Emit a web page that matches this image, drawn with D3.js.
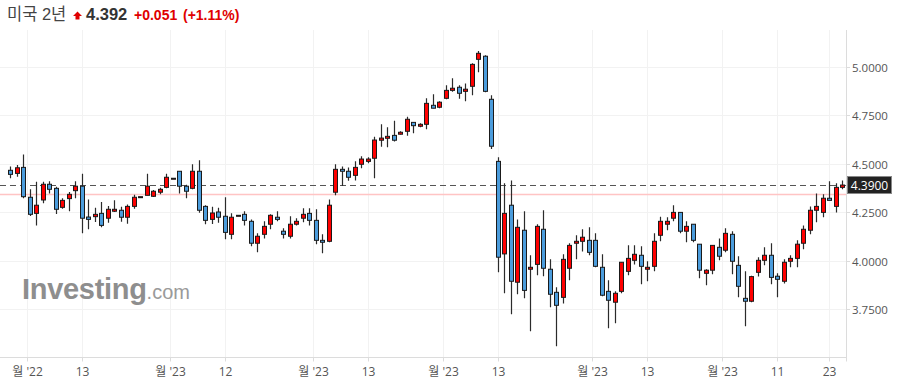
<!DOCTYPE html>
<html>
<head>
<meta charset="utf-8">
<script src="https://cdn.jsdelivr.net/npm/d3@7"></script>
<style>
  body { margin: 0; background: #fff; }
  svg { display: block; }
</style>
</head>
<body>
<svg id="chart" width="898" height="389"></svg>
<script>
const dates = [
  '2022-11-28', '2022-11-29', '2022-11-30', '2022-12-01', '2022-12-02', '2022-12-05', '2022-12-06', '2022-12-07', '2022-12-08', '2022-12-09',
  '2022-12-12', '2022-12-13', '2022-12-14', '2022-12-15', '2022-12-16', '2022-12-19', '2022-12-20', '2022-12-21', '2022-12-22', '2022-12-23',
  '2022-12-26', '2022-12-27', '2022-12-28', '2022-12-29', '2022-12-30', '2023-01-02', '2023-01-03', '2023-01-04', '2023-01-05', '2023-01-06',
  '2023-01-09', '2023-01-10', '2023-01-11', '2023-01-12', '2023-01-13', '2023-01-16', '2023-01-17', '2023-01-18', '2023-01-19', '2023-01-20',
  '2023-01-23', '2023-01-24', '2023-01-25', '2023-01-26', '2023-01-27', '2023-01-30', '2023-01-31', '2023-02-01', '2023-02-02', '2023-02-03',
  '2023-02-06', '2023-02-07', '2023-02-08', '2023-02-09', '2023-02-10', '2023-02-13', '2023-02-14', '2023-02-15', '2023-02-16', '2023-02-17',
  '2023-02-20', '2023-02-21', '2023-02-22', '2023-02-23', '2023-02-24', '2023-02-27', '2023-02-28', '2023-03-01', '2023-03-02', '2023-03-03',
  '2023-03-06', '2023-03-07', '2023-03-08', '2023-03-09', '2023-03-10', '2023-03-13', '2023-03-14', '2023-03-15', '2023-03-16', '2023-03-17',
  '2023-03-20', '2023-03-21', '2023-03-22', '2023-03-23', '2023-03-24', '2023-03-27', '2023-03-28', '2023-03-29', '2023-03-30', '2023-03-31',
  '2023-04-03', '2023-04-04', '2023-04-05', '2023-04-06', '2023-04-07', '2023-04-10', '2023-04-11', '2023-04-12', '2023-04-13', '2023-04-14',
  '2023-04-17', '2023-04-18', '2023-04-19', '2023-04-20', '2023-04-21', '2023-04-24', '2023-04-25', '2023-04-26', '2023-04-27', '2023-04-28',
  '2023-05-01', '2023-05-02', '2023-05-03', '2023-05-04', '2023-05-05', '2023-05-08', '2023-05-09', '2023-05-10', '2023-05-11', '2023-05-12',
  '2023-05-15', '2023-05-16', '2023-05-17', '2023-05-18', '2023-05-19', '2023-05-22', '2023-05-23', '2023-05-24', '2023-05-25'
]

const open = [
  4.466, 4.450, 4.481, 4.327, 4.244, 4.313, 4.394, 4.373, 4.275, 4.320,
  4.361, 4.384, 4.225, 4.227, 4.244, 4.219, 4.255, 4.260, 4.224, 4.280,
  4.330, 4.337, 4.332, 4.353, 4.378, 4.425, 4.461, 4.384, 4.373, 4.461,
  4.280, 4.213, 4.251, 4.229, 4.136, 4.234, 4.239, 4.203, 4.090, 4.136,
  4.188, 4.224, 4.152, 4.126, 4.188, 4.219, 4.244, 4.208, 4.105, 4.100,
  4.353, 4.471, 4.461, 4.440, 4.497, 4.512, 4.528, 4.621, 4.631, 4.646,
  4.652, 4.667, 4.713, 4.693, 4.703, 4.801, 4.791, 4.837, 4.878, 4.894,
  4.873, 4.899, 5.038, 5.054, 4.832, 4.512, 4.035, 4.286, 3.889, 4.157,
  3.956, 3.981, 4.162, 3.956, 3.837, 3.811, 3.961, 4.090, 4.100, 4.105,
  4.105, 3.966, 3.842, 3.786, 3.842, 3.945, 4.002, 4.028, 3.956, 3.971,
  4.131, 4.188, 4.219, 4.249, 4.152, 4.188, 4.085, 3.935, 3.951, 4.069,
  4.054, 4.136, 3.976, 3.806, 3.791, 3.940, 4.002, 4.028, 3.920, 3.894,
  3.997, 4.012, 4.090, 4.157, 4.260, 4.249, 4.322, 4.280, 4.378
]
const high = [
  4.485, 4.493, 4.548, 4.368, 4.407, 4.407, 4.409, 4.381, 4.322, 4.354,
  4.409, 4.448, 4.316, 4.273, 4.303, 4.282, 4.311, 4.278, 4.290, 4.340,
  4.330, 4.448, 4.364, 4.376, 4.448, 4.425, 4.461, 4.392, 4.497, 4.518,
  4.286, 4.278, 4.273, 4.327, 4.244, 4.234, 4.255, 4.213, 4.141, 4.203,
  4.239, 4.255, 4.167, 4.229, 4.219, 4.270, 4.270, 4.265, 4.136, 4.316,
  4.497, 4.485, 4.481, 4.512, 4.538, 4.533, 4.639, 4.703, 4.688, 4.722,
  4.667, 4.742, 4.713, 4.708, 4.837, 4.858, 4.822, 4.904, 4.940, 4.904,
  4.914, 5.018, 5.081, 5.059, 4.853, 4.533, 4.399, 4.414, 4.213, 4.255,
  4.028, 4.188, 4.260, 4.007, 3.863, 4.033, 4.090, 4.131, 4.162, 4.172,
  4.141, 4.033, 3.899, 3.842, 3.992, 4.079, 4.079, 4.074, 3.997, 4.141,
  4.227, 4.224, 4.286, 4.249, 4.203, 4.188, 4.085, 3.956, 4.079, 4.115,
  4.167, 4.152, 4.023, 3.945, 3.923, 4.018, 4.069, 4.090, 3.935, 4.007,
  4.028, 4.105, 4.182, 4.280, 4.347, 4.342, 4.409, 4.399, 4.414
]
const low = [
  4.425, 4.433, 4.322, 4.230, 4.182, 4.296, 4.347, 4.241, 4.268, 4.255,
  4.322, 4.141, 4.162, 4.199, 4.172, 4.196, 4.251, 4.201, 4.190, 4.268,
  4.330, 4.337, 4.328, 4.342, 4.373, 4.425, 4.347, 4.322, 4.368, 4.247,
  4.188, 4.189, 4.196, 4.110, 4.110, 4.234, 4.182, 4.074, 4.043, 4.115,
  4.162, 4.203, 4.115, 4.115, 4.182, 4.198, 4.182, 4.085, 4.038, 4.095,
  4.337, 4.385, 4.412, 4.414, 4.476, 4.502, 4.425, 4.588, 4.585, 4.615,
  4.651, 4.644, 4.657, 4.688, 4.677, 4.786, 4.786, 4.832, 4.871, 4.835,
  4.822, 4.853, 4.971, 4.868, 4.576, 3.940, 3.832, 3.724, 3.827, 3.806,
  3.636, 3.925, 3.920, 3.760, 3.559, 3.780, 3.899, 4.007, 4.048, 4.028,
  3.966, 3.817, 3.652, 3.677, 3.832, 3.925, 3.981, 3.878, 3.894, 3.945,
  4.100, 4.157, 4.203, 4.141, 4.095, 4.095, 3.909, 3.873, 3.930, 4.002,
  4.043, 3.930, 3.811, 3.662, 3.786, 3.918, 3.976, 3.878, 3.811, 3.883,
  3.966, 3.966, 4.059, 4.136, 4.198, 4.224, 4.311, 4.249, 4.368
]
const close = [
  4.445, 4.479, 4.330, 4.239, 4.286, 4.394, 4.368, 4.265, 4.311, 4.342,
  4.384, 4.219, 4.213, 4.239, 4.182, 4.265, 4.265, 4.224, 4.280, 4.327,
  4.330, 4.384, 4.358, 4.368, 4.430, 4.425, 4.384, 4.358, 4.461, 4.260,
  4.208, 4.246, 4.224, 4.146, 4.224, 4.234, 4.208, 4.090, 4.126, 4.177,
  4.234, 4.213, 4.136, 4.188, 4.203, 4.239, 4.208, 4.105, 4.095, 4.286,
  4.471, 4.461, 4.430, 4.481, 4.524, 4.524, 4.622, 4.632, 4.641, 4.621,
  4.662, 4.729, 4.696, 4.703, 4.811, 4.786, 4.817, 4.878, 4.889, 4.863,
  4.884, 5.012, 5.069, 4.873, 4.590, 4.018, 4.244, 3.894, 4.172, 3.847,
  3.966, 4.177, 3.961, 3.827, 3.770, 4.007, 4.079, 4.100, 4.121, 4.043,
  3.971, 3.822, 3.796, 3.832, 3.992, 4.012, 4.033, 3.971, 3.966, 4.100,
  4.203, 4.203, 4.249, 4.152, 4.177, 4.105, 3.951, 3.951, 4.079, 4.023,
  4.141, 3.997, 3.868, 3.791, 3.918, 4.002, 4.028, 3.914, 3.904, 3.992,
  4.012, 4.085, 4.162, 4.260, 4.280, 4.322, 4.311, 4.378, 4.390
]

const yTicks = [3.75, 4.0, 4.25, 4.5, 4.75, 5.0]
const xTickDates = ['2022-12-01', '2022-12-13', '2023-01-02', '2023-01-12', '2023-02-01', '2023-02-13', '2023-03-01',
  '2023-03-13', '2023-04-03', '2023-04-13', '2023-05-01', '2023-05-11', '2023-05-23']
const xTickLabels = ["월 '22", '13', "월 '23", '12', "월 '23", '13', "월 '23", '13', "월 '23", '13', "월 '23", '11', '23']

const prevClose = 4.341
const title = { name: '미국 2년', price: '4.392', change: '+0.051', pct: '(+1.11%)' }

const svg = d3.select('#chart')
const plotRight = 846
const plotTop = 30
const plotBottom = 357.5
const font = '"Open Sans", "Noto Sans CJK KR", sans-serif'

const x = d3.scalePoint().domain(dates).range([10.3, 842.3])
const step = x.step()
const y = d3.scaleLinear().domain([4, 5]).range([260.7, 66.7])

svg.append('defs').append('clipPath').attr('id', 'plot')
  .append('rect').attr('x', 0).attr('y', plotTop).attr('width', plotRight).attr('height', plotBottom - plotTop)

// grid
const tickX = (d, i) => xTickLabels[i].startsWith('월') ? x(d) - step / 2 : x(d)
svg.append('g').selectAll('line').data(xTickDates).join('line')
  .attr('x1', (d, i) => Math.round(tickX(d, i)) + 0.5).attr('x2', (d, i) => Math.round(tickX(d, i)) + 0.5)
  .attr('y1', plotTop).attr('y2', plotBottom)
  .attr('stroke', '#f2f2f2')
svg.append('g').selectAll('line').data(yTicks).join('line')
  .attr('x1', 0).attr('x2', plotRight)
  .attr('y1', d => Math.round(y(d)) + 0.5).attr('y2', d => Math.round(y(d)) + 0.5)
  .attr('stroke', '#f2f2f2')

// watermark
const logo = svg.append('text').attr('x', 22).attr('y', 299)
  .attr('font-family', '"Liberation Sans", Arial, sans-serif')
logo.append('tspan').text('Investing').attr('font-size', 29).attr('font-weight', 'bold').attr('fill', '#8e8e8e')
  .attr('letter-spacing', -0.3)
logo.append('tspan').text('.com').attr('font-size', 20).attr('fill', '#9a9a9a')

// previous close + current price lines
svg.append('line').attr('x1', 0).attr('x2', plotRight)
  .attr('y1', y(prevClose)).attr('y2', y(prevClose))
  .attr('stroke', '#ffc4c4').attr('stroke-width', 1.5)
const last = close[close.length - 1]
svg.append('line').attr('x1', 0).attr('x2', plotRight)
  .attr('y1', Math.round(y(last)) + 0.5).attr('y2', Math.round(y(last)) + 0.5)
  .attr('stroke', '#555').attr('stroke-dasharray', '6,4')

// candles
const candles = svg.append('g').attr('clip-path', 'url(#plot)')
  .selectAll('g').data(dates).join('g')

candles.append('line')
  .attr('x1', d => Math.round(x(d)) + 0.5).attr('x2', d => Math.round(x(d)) + 0.5)
  .attr('y1', (d, i) => y(high[i])).attr('y2', (d, i) => y(low[i]))
  .attr('stroke', '#2b2b2b').attr('stroke-width', 1.2)

candles.append('rect')
  .attr('x', d => Math.round(x(d)) - 1.5)
  .attr('width', 4)
  .attr('y', (d, i) => y(Math.max(open[i], close[i])))
  .attr('height', (d, i) => Math.max(1, Math.abs(y(open[i]) - y(close[i]))))
  .attr('fill', (d, i) => close[i] >= open[i] ? '#ff0000' : '#4b9cdc')
  .attr('stroke', '#1a1a1a').attr('stroke-width', 1)

// axes lines
svg.append('line').attr('x1', plotRight + 0.5).attr('x2', plotRight + 0.5)
  .attr('y1', plotTop).attr('y2', plotBottom + 4).attr('stroke', '#dcdcdc')
svg.append('line').attr('x1', 0).attr('x2', plotRight)
  .attr('y1', plotBottom).attr('y2', plotBottom).attr('stroke', '#dcdcdc')

// x ticks
const xt = svg.append('g').selectAll('g').data(xTickDates).join('g')
  .attr('transform', (d, i) => `translate(${Math.round(tickX(d, i)) + 0.5},0)`)
xt.append('line').attr('y1', plotBottom).attr('y2', plotBottom + 4).attr('stroke', '#dcdcdc')
xt.append('text').attr('y', 376).attr('text-anchor', 'middle')
  .attr('font-family', font).attr('font-size', 12).attr('fill', '#555')
  .text((d, i) => xTickLabels[i])

// y ticks
const yt = svg.append('g').selectAll('g').data(yTicks).join('g')
  .attr('transform', d => `translate(0,${Math.round(y(d)) + 0.5})`)
yt.append('line').attr('x1', plotRight).attr('x2', plotRight + 4).attr('stroke', '#dcdcdc')
yt.append('text').attr('x', 852).attr('dy', '0.35em')
  .attr('font-family', font).attr('font-size', 11.5).attr('fill', '#555')
  .text(d => d.toFixed(4))

// current price box
const py = Math.round(y(last))
svg.append('rect').attr('x', 847.5).attr('y', py - 8.5).attr('width', 44).attr('height', 17)
  .attr('fill', '#222').attr('stroke', '#888')
svg.append('text').attr('x', 869.5).attr('y', py + 0.5).attr('dy', '0.35em').attr('text-anchor', 'middle')
  .attr('font-family', font).attr('font-size', 12).attr('fill', '#fff')
  .text(last.toFixed(4))

// title
const t = svg.append('text').attr('x', 7).attr('y', 20)
  .attr('font-family', '"Liberation Sans", "Noto Sans CJK KR", sans-serif')
t.append('tspan').text(title.name).attr('font-size', 16.5).attr('fill', '#444')
t.append('tspan').text(title.price).attr('x', 86).attr('font-size', 16.5).attr('font-weight', 'bold').attr('fill', '#333')
t.append('tspan').text(title.change).attr('x', 134).attr('font-size', 14).attr('font-weight', 'bold').attr('fill', '#e00000')
t.append('tspan').text(title.pct).attr('x', 183).attr('font-size', 14).attr('font-weight', 'bold').attr('fill', '#e00000')
svg.append('path').attr('d', 'M77.5,11.5 L82,16 L79.5,16 L79.5,19.5 L75.5,19.5 L75.5,16 L73,16 Z')
  .attr('fill', '#e00000')
</script>
</body>
</html>
